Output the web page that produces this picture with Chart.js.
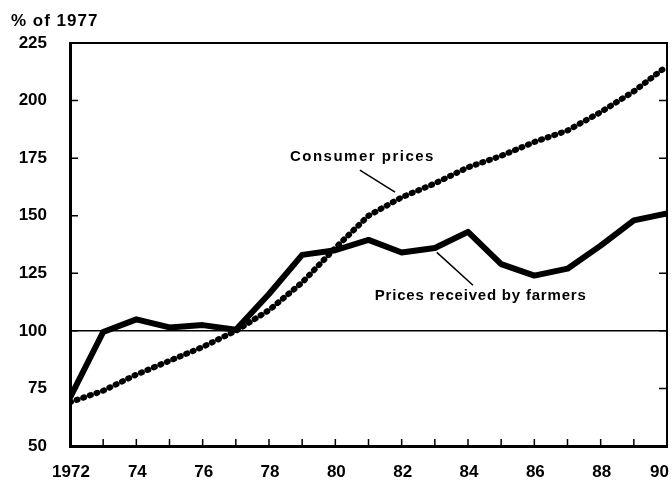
<!DOCTYPE html>
<html>
<head>
<meta charset="utf-8">
<script src="https://cdn.jsdelivr.net/npm/chart.js@4"></script>
<style>
  html, body { margin: 0; padding: 0; background: #fff; }
  #wrap { width: 672px; height: 480px; }
</style>
</head>
<body>
<div id="wrap"><canvas id="chart"></canvas></div>
<script>
const years = [1972, 1973, 1974, 1975, 1976, 1977, 1978, 1979, 1980, 1981,
  1982, 1983, 1984, 1985, 1986, 1987, 1988, 1989, 1990];
const farmers = [71, 99.5, 105, 101.5, 102.5, 100.5, 116, 133, 135, 139.5,
  134, 136, 143, 129, 124, 127, 137, 148, 151];
const consumer = [69, 74, 81, 87, 93, 100, 109, 121, 136, 150,
  158, 164, 171, 176, 182, 187, 195, 204, 215];
const yTicks = [50, 75, 100, 125, 150, 175, 200, 225];
const xTickLabels = ["1972", "", "74", "", "76", "", "78", "", "80", "",
  "82", "", "84", "", "86", "", "88", "", "90"];

const FONT = "'Liberation Sans', Arial, sans-serif";
Chart.defaults.font.family = FONT;
Chart.defaults.font.weight = "bold";
Chart.defaults.font.size = 17;
Chart.defaults.color = "#000";

// frame, inner tick marks, x labels, notes with leader lines
const decor = {
  id: "decor",
  afterDraw(chart) {
    const ctx = chart.ctx;
    const a = chart.chartArea;
    const xs = chart.scales.x;
    const ys = chart.scales.y;
    ctx.save();
    ctx.strokeStyle = "#000";
    ctx.lineWidth = 2;
    ctx.beginPath();
    ctx.moveTo(a.left, a.top);
    ctx.lineTo(a.right, a.top);
    ctx.lineTo(a.right, a.bottom);
    ctx.stroke();

    ctx.lineWidth = 1.5;
    ctx.beginPath();
    years.slice(1, -1).forEach(yr => {
      const px = xs.getPixelForValue(yr);
      ctx.moveTo(px, a.bottom);
      ctx.lineTo(px, a.bottom - 7);
    });
    yTicks.slice(1, -1).forEach(v => {
      const py = ys.getPixelForValue(v);
      ctx.moveTo(a.left, py);
      ctx.lineTo(a.left + 8, py);
      ctx.moveTo(a.right, py);
      ctx.lineTo(a.right - 8, py);
    });
    ctx.stroke();

    // x labels: last one pulled inside the frame
    ctx.fillStyle = "#000";
    ctx.font = "bold 17px " + FONT;
    ctx.textBaseline = "middle";
    years.forEach((yr, i) => {
      if (!xTickLabels[i]) return;
      const last = i === years.length - 1;
      ctx.textAlign = last ? "right" : "center";
      ctx.fillText(xTickLabels[i], xs.getPixelForValue(yr) + (last ? 2 : 1), a.bottom + 26);
    });

    // leader lines
    ctx.lineWidth = 1.5;
    ctx.beginPath();
    ctx.moveTo(xs.getPixelForValue(1980.74), ys.getPixelForValue(169.8));
    ctx.lineTo(xs.getPixelForValue(1981.8), ys.getPixelForValue(160.2));
    ctx.moveTo(xs.getPixelForValue(1983.06), ys.getPixelForValue(134.1));
    ctx.lineTo(xs.getPixelForValue(1984.15), ys.getPixelForValue(119.8));
    ctx.stroke();

    ctx.font = "bold 15px " + FONT;
    ctx.textAlign = "left";
    ctx.letterSpacing = "1.5px";
    ctx.fillText("Consumer prices", xs.getPixelForValue(1978.63), ys.getPixelForValue(175.4));
    ctx.letterSpacing = "0.8px";
    ctx.fillText("Prices received by farmers", xs.getPixelForValue(1981.19), ys.getPixelForValue(115));

    ctx.letterSpacing = "1px";
    ctx.font = "bold 17px " + FONT;
    ctx.fillText("% of 1977", 11, 21);
    ctx.restore();
  }
};

new Chart(document.getElementById("chart"), {
  type: "line",
  data: {
    datasets: [
      {
        label: "Prices received by farmers",
        data: years.map((yr, i) => ({ x: yr, y: farmers[i] })),
        borderColor: "#000",
        borderWidth: 6,
        borderJoinStyle: "round",
        pointRadius: 0,
        tension: 0
      },
      {
        label: "Consumer prices",
        data: years.map((yr, i) => ({ x: yr, y: consumer[i] })),
        borderColor: "#000",
        borderWidth: 6,
        borderCapStyle: "round",
        borderDash: [1, 6],
        pointRadius: 0,
        tension: 0
      }
    ]
  },
  options: {
    responsive: true,
    maintainAspectRatio: false,
    animation: false,
    layout: { padding: { top: 43, right: 5, left: 0, bottom: 0 } },
    plugins: { legend: { display: false }, tooltip: { enabled: false } },
    scales: {
      x: {
        type: "linear",
        min: 1972,
        max: 1990,
        afterBuildTicks: s => { s.ticks = years.map(v => ({ value: v })); },
        afterFit: s => { s.height = 34; s.paddingLeft = 0; s.paddingRight = 0; },
        ticks: { display: false },
        grid: { display: false, drawTicks: false },
        border: { display: true, color: "#000", width: 3 }
      },
      y: {
        min: 50,
        max: 225,
        afterBuildTicks: s => { s.ticks = yTicks.map(v => ({ value: v })); },
        afterFit: s => { s.width = 70; s.paddingTop = 0; s.paddingBottom = 0; },
        ticks: { padding: 23 },
        grid: {
          drawTicks: false,
          color: c => (c.tick && c.tick.value === 100 ? "#000" : "rgba(0,0,0,0)"),
          lineWidth: 1.5
        },
        border: { display: true, color: "#000", width: 3 }
      }
    }
  },
  plugins: [decor]
});
</script>
</body>
</html>
